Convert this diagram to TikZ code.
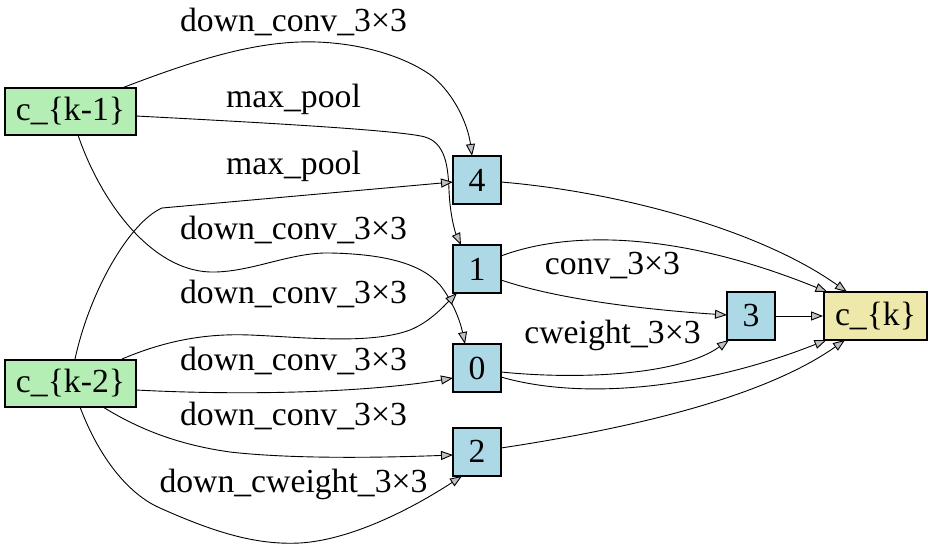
\documentclass[tikz,border=0pt]{standalone}
\usepackage{fontspec}
\setmainfont{Liberation Serif}
\usetikzlibrary{arrows.meta}
\definecolor{inputgreen}{HTML}{B4EEB4}
\definecolor{opblue}{HTML}{ADD8E6}
\definecolor{outyellow}{HTML}{EEE8AA}
\definecolor{tipgray}{HTML}{C0C0C0}
\begin{document}
\begin{tikzpicture}[x=1pt,y=-1pt,
  every node/.style={font=\fontsize{33.7}{40}\selectfont},
  inbox/.style={draw=black, line width=2pt, fill=inputgreen, minimum width=131pt, minimum height=47pt, inner sep=0pt},
  opbox/.style={draw=black, line width=2pt, fill=opblue, minimum width=48pt, minimum height=48pt, inner sep=0pt},
  outbox/.style={draw=black, line width=2pt, fill=outyellow, minimum width=103pt, minimum height=48pt, inner sep=0pt},
  edge/.style={draw=black, line width=0.9pt, -{Triangle[length=12pt, width=9pt, fill=tipgray]}},
  elabel/.style={anchor=base, inner sep=0pt}]
\useasboundingbox (0,0) rectangle (932,548);

% cell nodes
\node[inbox]  (c1) at (70.5,111.5) {c\_\{k-1\}};
\node[inbox]  (c2) at (70.5,383)   {c\_\{k-2\}};
\node[opbox]  (n4) at (477,180)    {4};
\node[opbox]  (n1) at (477,269)    {1};
\node[opbox]  (n0) at (477,368)    {0};
\node[opbox]  (n2) at (477,451.5)  {2};
\node[opbox]  (n3) at (751,316)    {3};
\node[outbox] (ck) at (875.5,316)  {c\_\{k\}};

% edges from c_{k-1} and c_{k-2}
\draw[edge] ([shift={(51.5,-23.5)}]c1.center) .. controls (200,58) and (260,40) .. (317,42)
  .. controls (370,44) and (410,60) .. (432,76) .. controls (455,95) and (468,125) .. ([shift={(-5,-24)}]n4.center);
\draw[edge] ([shift={(65.5,4.5)}]c1.center) .. controls (250,122) and (400,130) .. (425,137)
  .. controls (445,143) and (448,165) .. (449,190) .. controls (450,215) and (455,232) .. ([shift={(-16,-24)}]n1.center);
\draw[edge] ([shift={(4.5,-24)}]c2.center) .. controls (90,290) and (130,222) .. (162,208)
  -- ([shift={(-24,2)}]n4.center);
\draw[edge] ([shift={(7.5,23.5)}]c1.center) .. controls (100,200) and (150,270) .. (210,272)
  .. controls (250,273) and (290,252) .. (330,253) .. controls (380,254) and (420,262) .. (440,285)
  .. controls (452,300) and (460,320) .. ([shift={(-12,-24)}]n0.center);
\draw[edge] ([shift={(51.5,-24)}]c2.center) .. controls (160,343) and (200,333) .. (250,335)
  .. controls (300,337) and (370,345) .. (410,330) .. controls (430,322) and (445,305) .. ([shift={(-20,24)}]n1.center);
\draw[edge] ([shift={(65.5,7)}]c2.center) .. controls (250,396) and (370,392) .. ([shift={(-24,10)}]n0.center);
\draw[edge] ([shift={(32.5,24)}]c2.center) .. controls (140,430) and (180,445) .. (230,452)
  .. controls (300,460) and (400,457) .. ([shift={(-24,3.5)}]n2.center);
\draw[edge] ([shift={(9.5,24)}]c2.center) .. controls (100,460) and (130,495) .. (160,508)
  .. controls (220,535) and (260,545) .. (300,543) .. controls (350,540) and (410,510) .. ([shift={(-15,24.5)}]n2.center);

% edges between intermediate nodes and to the output
\draw[edge] ([shift={(24,11)}]n1.center) .. controls (560,300) and (650,310) .. ([shift={(-24,-1)}]n3.center);
\draw[edge] ([shift={(24,4)}]n0.center) .. controls (580,380) and (680,375) .. ([shift={(-22,24)}]n3.center);
\draw[edge] ([shift={(24,2)}]n4.center) .. controls (620,192) and (760,230) .. ([shift={(-28.5,-24)}]ck.center);
\draw[edge] ([shift={(24,-13)}]n1.center) .. controls (570,230) and (680,232) .. ([shift={(-48,-24)}]ck.center);
\draw[edge] ([shift={(24,9)}]n0.center) .. controls (580,400) and (700,390) .. ([shift={(-49,24)}]ck.center);
\draw[edge] ([shift={(24,-3.5)}]n2.center) .. controls (620,430) and (760,400) .. ([shift={(-30.5,24)}]ck.center);
\draw[edge] (n3.east) -- (ck.west);

% edge labels
\node[elabel] (l1)  at (293.5,32)  {down\_conv\_3×3};
\node[elabel] (l2)  at (293.5,108) {max\_pool};
\node[elabel] (l3)  at (293.5,175) {max\_pool};
\node[elabel] (l4)  at (293.5,240) {down\_conv\_3×3};
\node[elabel] (l5)  at (293.5,303) {down\_conv\_3×3};
\node[elabel] (l6)  at (293.5,370) {down\_conv\_3×3};
\node[elabel] (l7)  at (293.5,425) {down\_conv\_3×3};
\node[elabel] (l8)  at (293.5,492) {down\_cweight\_3×3};
\node[elabel] (l9)  at (612.5,275) {conv\_3×3};
\node[elabel] (l10) at (612.5,343) {cweight\_3×3};
\end{tikzpicture}
\end{document}
